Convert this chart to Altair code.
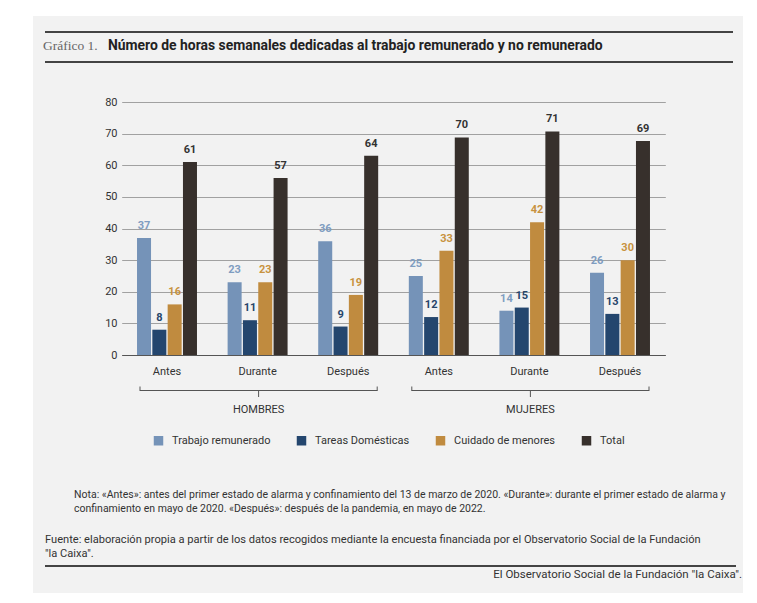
import altair as alt
import pandas as pd

# ---------------- data ----------------
sexos = ["HOMBRES", "MUJERES"]
periodos = ["Antes", "Durante", "Después"]
series = ["Trabajo remunerado", "Tareas Domésticas", "Cuidado de menores", "Total"]

trabajo_remunerado = [37, 23, 36, 25, 14, 26]
tareas_domesticas = [8, 11, 9, 12, 15, 13]
cuidado_menores = [16, 23, 19, 33, 42, 30]
total_barras = [61, 56, 63, 68.8, 70.7, 67.7]
total_etiquetas = [61, 57, 64, 70, 71, 69]

y_ticks = [0, 10, 20, 30, 40, 50, 60, 70, 80]

titulo_num = "Gráfico 1."
titulo = "Número de horas semanales dedicadas al trabajo remunerado y no remunerado"
nota = [
    "Nota: «Antes»: antes del primer estado de alarma y confinamiento del 13 de marzo de 2020. «Durante»: durante el primer estado de alarma y",
    "confinamiento en mayo de 2020. «Después»: después de la pandemia, en mayo de 2022.",
]
fuente = [
    "Fuente: elaboración propia a partir de los datos recogidos mediante la encuesta financiada por el Observatorio Social de la Fundación",
    "\"la Caixa\".",
]
pie = "El Observatorio Social de la Fundación \"la Caixa\"."

# ---------------- styles ----------------
colores_barras = ["#7593b8", "#24466e", "#c08b3f", "#37302c"]
colores_etiquetas = ["#7f9dc1", "#27456a", "#c8923f", "#333333"]
FONT = "Roboto"
TXT = "#333333"

# ---------------- tables ----------------
claves = [f"{s}|{p}" for s in sexos for p in periodos]
valores = [trabajo_remunerado, tareas_domesticas, cuidado_menores, total_barras]
etiquetas = [trabajo_remunerado, tareas_domesticas, cuidado_menores, total_etiquetas]
rows = []
for i, c in enumerate(claves):
    for j, s in enumerate(series):
        rows.append({"clave": c, "serie": s, "valor": valores[j][i],
                     "etiqueta": str(etiquetas[j][i])})
df = pd.DataFrame(rows)

brk = pd.DataFrame({
    "sexo": sexos,
    "clave_ini": [claves[0], claves[3]],
    "clave_mid": [claves[1], claves[4]],
    "clave_fin": [claves[2], claves[5]],
})
dummy = pd.DataFrame({"d": [0]})

xscale = alt.Scale(domain=claves, range=[-1.3, 542.3], paddingInner=0, paddingOuter=0)
xaxis = alt.Axis(title=None, labelExpr="split(datum.label, '|')[1]", labelAngle=0,
                 ticks=False, labelPadding=10, domainColor="#555555", domainWidth=1.2,
                 labelFontSize=11, labelColor=TXT, labelFont=FONT)
yscale = alt.Scale(domain=[0, 80], nice=False)
yaxis = alt.Axis(values=y_ticks, title=None, domain=False, ticks=False, labelPadding=6,
                 gridColor="#8c8c8c", gridWidth=0.8, labelFontSize=11,
                 labelColor=TXT, labelFont=FONT)
xoff = alt.XOffset("serie:N", scale=alt.Scale(domain=series, paddingInner=0.085, paddingOuter=1.0))

bars = alt.Chart(df).mark_bar().encode(
    x=alt.X("clave:N", scale=xscale, axis=xaxis),
    xOffset=xoff,
    y=alt.Y("valor:Q", scale=yscale, axis=yaxis),
    color=alt.Color("serie:N", scale=alt.Scale(domain=series, range=colores_barras),
                    legend=alt.Legend(orient="none", legendX=30, legendY=333,
                                      direction="horizontal", title=None,
                                      symbolType="square", symbolSize=90,
                                      symbolStrokeWidth=0, labelFontSize=11,
                                      labelFont=FONT, labelColor=TXT,
                                      columnPadding=25, labelOffset=8)),
)

labels = alt.Chart(df).mark_text(baseline="middle", dy=-12, fontWeight="bold",
                                 fontSize=11, font=FONT).encode(
    x=alt.X("clave:N", scale=xscale, axis=xaxis),
    xOffset=xoff,
    y=alt.Y("valor:Q", scale=yscale, axis=yaxis),
    text="etiqueta:N",
    color=alt.Color("serie:N", scale=alt.Scale(domain=series, range=colores_etiquetas),
                    legend=None),
)

BR = "#555555"
br_h = alt.Chart(brk).mark_rule(color=BR, strokeWidth=1, xOffset=-27, x2Offset=29).encode(
    x=alt.X("clave_ini:N", scale=xscale, axis=xaxis), x2="clave_fin:N",
    y=alt.value(288.5))
br_l = alt.Chart(brk).mark_rule(color=BR, strokeWidth=1, xOffset=-27).encode(
    x=alt.X("clave_ini:N", scale=xscale, axis=xaxis), y=alt.value(284.5), y2=alt.value(289))
br_r = alt.Chart(brk).mark_rule(color=BR, strokeWidth=1, xOffset=29).encode(
    x=alt.X("clave_fin:N", scale=xscale, axis=xaxis), y=alt.value(284.5), y2=alt.value(289))
br_c = alt.Chart(brk).mark_rule(color=BR, strokeWidth=1, xOffset=1).encode(
    x=alt.X("clave_mid:N", scale=xscale, axis=xaxis), y=alt.value(288.5), y2=alt.value(295))
br_t = alt.Chart(brk).mark_text(fontSize=11, font=FONT, color=TXT, baseline="middle",
                                xOffset=1).encode(
    x=alt.X("clave_mid:N", scale=xscale, axis=xaxis), y=alt.value(308), text="sexo:N")

def txt(text, x, y, **kw):
    return alt.Chart(dummy).mark_text(text=text, **kw).encode(x=alt.value(x), y=alt.value(y))

def rule(x1, x2, y, w=2, color="#444444"):
    return alt.Chart(dummy).mark_rule(color=color, strokeWidth=w).encode(
        x=alt.value(x1), x2=alt.value(x2), y=alt.value(y))

t1 = txt(titulo_num, -80, -56, align="left", baseline="middle", font="Liberation Serif",
         fontSize=13.5, color="#666666")
t2 = txt(titulo, -15, -56, align="left", baseline="middle", font=FONT, fontWeight="bold",
         fontSize=13.9, color="#222222")
r1 = rule(-78, 610, -70)
r2 = rule(-78, 610, -40)
r3 = rule(-78, 613, 464)
n1 = txt(nota, -49, 393, align="left", baseline="middle", font=FONT, fontSize=10.5,
         color=TXT, lineHeight=14)
f1 = txt(fuente, -78, 438, align="left", baseline="middle", font=FONT, fontSize=11.1,
         color=TXT, lineHeight=13.5)
p1 = txt(pie, 619, 473, align="right", baseline="middle", font=FONT, fontSize=11.5,
         color=TXT)

w_left = alt.Chart(dummy).mark_rect(color="white").encode(
    x=alt.value(-116), x2=alt.value(-90), y=alt.value(-95), y2=alt.value(500))
w_top = alt.Chart(dummy).mark_rect(color="white").encode(
    x=alt.value(-116), x2=alt.value(700), y=alt.value(-95), y2=alt.value(-86))

chart = alt.layer(
    bars, labels, br_h, br_l, br_r, br_c, br_t,
    t1, t2, r1, r2, r3, n1, f1, p1, w_left, w_top,
).resolve_scale(color="independent").properties(
    width=548, height=253,
    autosize=alt.AutoSizeParams(type="none"),
    padding={"left": 115, "top": 94, "right": 72, "bottom": 238},
).configure(background="#f2f2f2").configure_view(stroke=None)

chart.save("out.html", embed_options={"renderer": "svg", "actions": False})
